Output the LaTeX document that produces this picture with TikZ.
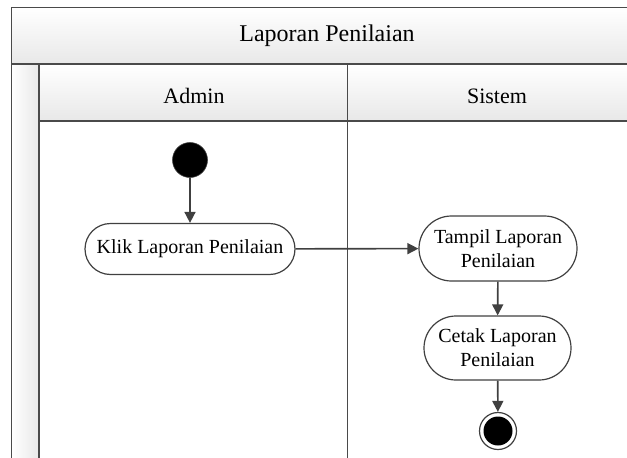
\documentclass[tikz,border=0pt]{standalone}
\usepackage{fontspec}
\setmainfont{Liberation Serif}
\usetikzlibrary{shapes.misc,arrows.meta}
\definecolor{edgecol}{HTML}{404040}
\definecolor{framecol}{HTML}{4A4A4A}
\definecolor{hdrcol}{HTML}{E8E8E8}
\tikzset{
  lanetext/.style={font=\fontsize{22}{26}\selectfont, text=black},
  action/.style={rounded rectangle, draw=edgecol, line width=1.2pt, fill=white,
    font=\fontsize{20}{24}\selectfont, align=center, inner sep=0pt},
  flow/.style={draw=edgecol, line width=1.6pt, -{Triangle[length=11pt,width=11pt]}},
  frameline/.style={draw=framecol, line width=1.8pt},
  startdot/.style={circle, fill=black, draw=edgecol, line width=0.6pt, minimum size=35pt, inner sep=0pt},
}
\begin{document}
\begin{tikzpicture}[x=1pt,y=-1pt]
\useasboundingbox (0,0) rectangle (627,458);
\clip (0,0) rectangle (627,458);
% pool and lane headers
\shade[top color=white, bottom color=hdrcol] (11.5,7.5) rectangle (660,64);
\shade[left color=white, right color=hdrcol] (11.5,64) rectangle (39,470);
\shade[top color=white, bottom color=hdrcol] (39,64) rectangle (660,121);
\draw[frameline] (660,7.5) -- (11.5,7.5) -- (11.5,470);
\draw[frameline] (11.5,64) -- (660,64);
\draw[frameline] (39,64) -- (39,470);
\draw[frameline] (39,121) -- (660,121);
\draw[frameline] (347.5,64) -- (347.5,470);
\node[lanetext, font=\fontsize{24}{28}\selectfont] (title) at (327,36) {Laporan Penilaian};
\node[lanetext] (admin) at (194,96) {Admin};
\node[lanetext] (sistem) at (497,96) {Sistem};
% activities
\node[startdot] (start) at (190,160) {};
\node[action, minimum width=210pt, minimum height=51pt] (klik) at (190,249) {Klik Laporan Penilaian};
\node[action, minimum width=158pt, minimum height=65pt] (tampil) at (498,248.5) {Tampil Laporan\\Penilaian};
\node[action, minimum width=147pt, minimum height=64pt] (cetak) at (497.5,348) {Cetak Laporan\\Penilaian};
\node[circle, draw=edgecol, line width=1.2pt, fill=white, minimum size=37pt, inner sep=0pt] (finish) at (498,431) {};
\node[circle, fill=black, minimum size=29pt, inner sep=0pt] (finishdot) at (finish.center) {};
% flows
\draw[flow] (start) -- (klik);
\draw[flow] (klik) -- (tampil);
\draw[flow] (tampil) -- (cetak);
\draw[flow] (cetak) -- (finish);
\end{tikzpicture}
\end{document}
